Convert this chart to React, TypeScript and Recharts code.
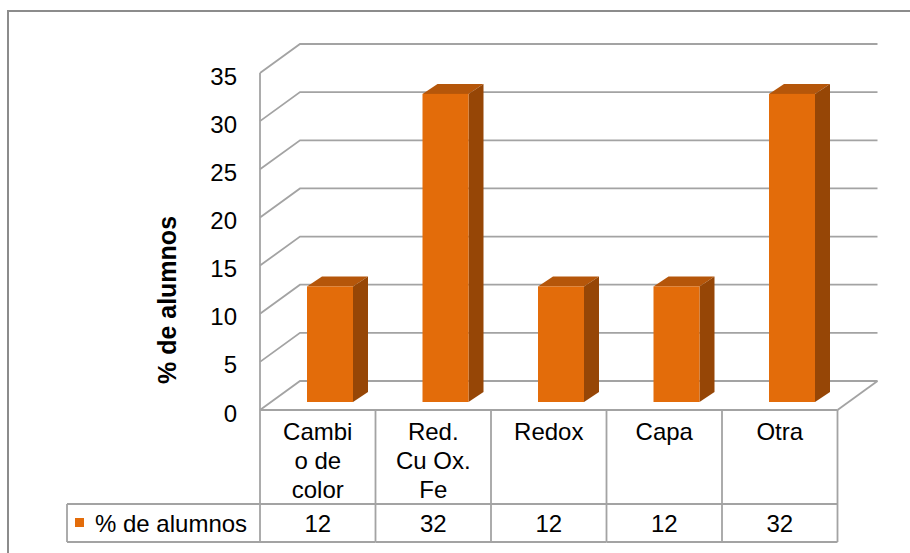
import { BarChart, Bar, XAxis, YAxis, CartesianGrid } from 'recharts';

const categories = ['Cambio de color', 'Red. Cu Ox. Fe', 'Redox', 'Capa', 'Otra'];
const categoryLines = [['Cambi', 'o de', 'color'], ['Red.', 'Cu Ox.', 'Fe'], ['Redox'], ['Capa'], ['Otra']];
const alumnos = [12, 32, 12, 12, 32];
const yTicks = [0, 5, 10, 15, 20, 25, 30, 35];
const seriesName = '% de alumnos';

const data = categories.map((name, i) => ({ name, value: alumnos[i] }));

// layout
const W = 910;
const H = 553;
const PLOT_L = 260;
const PLOT_R = 837.5;
const PLOT_T = 73;
const PLOT_B = 410;
const ROW_T = 504;
const TABLE_B = 542;
const LEGEND_L = 67;
const DEPTH_X = 40;
const DEPTH_Y = 29;
const BW = (PLOT_R - PLOT_L) / categories.length;

const FONT = '"Liberation Sans", Arial, sans-serif';
const LINE = '#a3a3a3';
const FRONT = '#e36c0a';
const TOP = '#b5560a';
const SIDE = '#964606';

function WallLine(p: any) {
  const { x1, y1, x2 } = p;
  const isFloor = Math.abs(y1 - PLOT_B) < 1;
  return (
    <g key={p.key}>
      <polyline
        points={`${x1},${y1} ${x1 + DEPTH_X},${y1 - DEPTH_Y} ${x2 + DEPTH_X},${y1 - DEPTH_Y}`}
        fill="none"
        stroke={LINE}
        strokeWidth={1.8}
      />
      {isFloor && (
        <line x1={x2} y1={y1} x2={x2 + DEPTH_X} y2={y1 - DEPTH_Y} stroke={LINE} strokeWidth={1.8} />
      )}
    </g>
  );
}

function Bar3D(p: any) {
  const { x, y, width, height } = p;
  if (height == null || width == null) return null;
  const ox = 12;
  const oy = -8;
  const sx = 15;
  const sy = 10;
  const fx = x + ox;
  const fy = y + oy;
  return (
    <g>
      <polygon
        points={`${fx},${fy} ${fx + sx},${fy - sy} ${fx + width + sx},${fy - sy} ${fx + width},${fy}`}
        fill={TOP}
      />
      <polygon
        points={`${fx + width},${fy} ${fx + width + sx},${fy - sy} ${fx + width + sx},${fy + height - sy} ${fx + width},${fy + height}`}
        fill={SIDE}
      />
      <rect x={fx} y={fy} width={width} height={height} fill={FRONT} />
    </g>
  );
}

function YTick(p: any) {
  const { x, y, payload } = p;
  return (
    <text x={x} y={y + 3} dy="0.355em" textAnchor="end" fontSize={24} fontFamily={FONT} fill="#000">
      {payload.value}
    </text>
  );
}

function TableCell(p: any) {
  const { x, index } = p;
  const left = x - BW / 2;
  const right = x + BW / 2;
  const lines = categoryLines[index] || [];
  const txt = { fontSize: 24, fontFamily: FONT, fill: '#000', textAnchor: 'middle' as const };
  return (
    <g>
      <line x1={right} y1={PLOT_B} x2={right} y2={TABLE_B} stroke={LINE} strokeWidth={1.8} />
      <line x1={left} y1={ROW_T} x2={right} y2={ROW_T} stroke={LINE} strokeWidth={1.8} />
      <line x1={left} y1={TABLE_B} x2={right} y2={TABLE_B} stroke={LINE} strokeWidth={1.8} />
      {lines.map((t, k) => (
        <text key={k} x={x} y={PLOT_B + 30 + k * 29} {...txt}>
          {t}
        </text>
      ))}
      <text x={x} y={532} {...txt}>
        {alumnos[index]}
      </text>
      {index === 0 && (
        <g>
          <line x1={left} y1={PLOT_B} x2={left} y2={TABLE_B} stroke={LINE} strokeWidth={1.8} />
          <line x1={LEGEND_L} y1={ROW_T} x2={left} y2={ROW_T} stroke={LINE} strokeWidth={1.8} />
          <line x1={LEGEND_L} y1={TABLE_B} x2={left} y2={TABLE_B} stroke={LINE} strokeWidth={1.8} />
          <line x1={LEGEND_L} y1={ROW_T} x2={LEGEND_L} y2={TABLE_B} stroke={LINE} strokeWidth={1.8} />
          <rect x={75} y={518} width={9} height={9} fill={FRONT} />
          <text x={95} y={532} fontSize={24} fontFamily={FONT} fill="#000">
            {seriesName}
          </text>
        </g>
      )}
    </g>
  );
}

function AxisTitle() {
  return (
    <text
      x={167}
      y={300}
      transform="rotate(-90 167 300)"
      textAnchor="middle"
      dominantBaseline="central"
      fontSize={25}
      fontWeight="bold"
      fontFamily={FONT}
      fill="#000"
    >
      {seriesName}
    </text>
  );
}

export default function App() {
  return (
    <div style={{ position: 'absolute', left: 0, top: 0, width: W, height: H, overflow: 'hidden', background: '#fff' }}>
      <div
        style={{
          position: 'absolute',
          left: 7,
          top: 10,
          width: 1000,
          height: 1000,
          border: '2px solid #8c8c8c',
        }}
      />
      <div style={{ position: 'absolute', left: 0, top: 0 }}>
        <BarChart
          width={W}
          height={H}
          data={data}
          margin={{ top: PLOT_T, right: W - PLOT_R, left: 200, bottom: H - TABLE_B }}
          barCategoryGap={0}
        >
          <CartesianGrid horizontal={WallLine} vertical={false} />
          <XAxis
            dataKey="name"
            height={TABLE_B - PLOT_B}
            tickLine={false}
            tickSize={0}
            tickMargin={0}
            interval={0}
            axisLine={{ stroke: LINE, strokeWidth: 1.8 }}
            tick={<TableCell />}
          />
          <YAxis
            width={60}
            domain={[0, 35]}
            ticks={yTicks}
            tickLine={false}
            tickSize={0}
            tickMargin={23}
            axisLine={{ stroke: LINE, strokeWidth: 1.8 }}
            tick={<YTick />}
            label={<AxisTitle />}
          />
          <Bar dataKey="value" name={seriesName} barSize={46} shape={<Bar3D />} isAnimationActive={false} />
        </BarChart>
      </div>
    </div>
  );
}
